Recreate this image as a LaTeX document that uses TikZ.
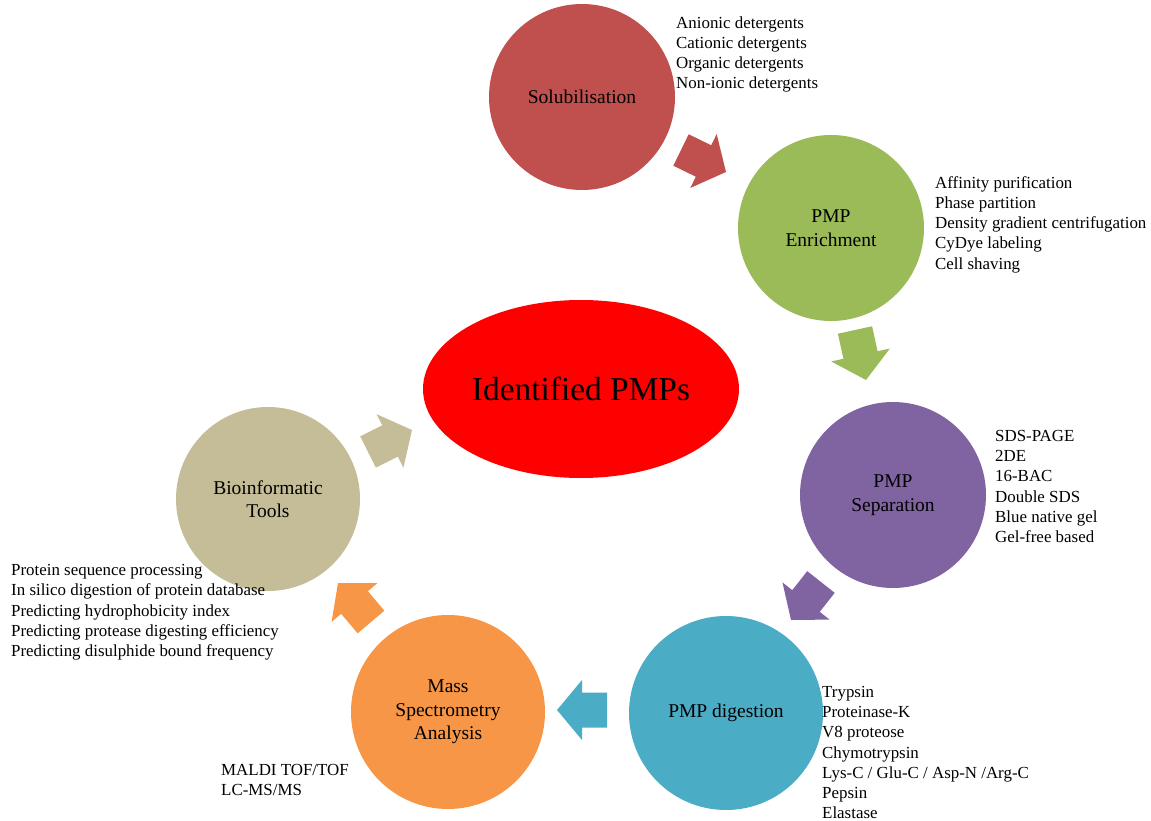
\documentclass[tikz,border=0pt]{standalone}
\usepackage{fontspec}
\setmainfont{Liberation Serif}
\usetikzlibrary{shapes.geometric,calc}
\definecolor{csol}{HTML}{C0504D}
\definecolor{cenr}{HTML}{9BBB59}
\definecolor{csep}{HTML}{8064A2}
\definecolor{cdig}{HTML}{4BACC6}
\definecolor{cms}{HTML}{F79646}
\definecolor{cbio}{HTML}{C4BD97}
\newcommand{\blockarr}[3]{%
  \fill[#1] ($(#2)!17.5pt!90:(#3)$)
    -- ($($(#2)!0.5!(#3)$)!17.5pt!90:(#3)$)
    -- ($($(#2)!0.5!(#3)$)!30pt!90:(#3)$)
    -- (#3)
    -- ($($(#2)!0.5!(#3)$)!30pt!-90:(#3)$)
    -- ($($(#2)!0.5!(#3)$)!17.5pt!-90:(#3)$)
    -- ($(#2)!17.5pt!-90:(#3)$) -- cycle;}
\begin{document}
\begin{tikzpicture}[x=1pt,y=-1pt,
  stage/.style={circle,inner sep=0pt,align=center,
    font=\fontsize{19.5}{23.5}\selectfont},
  lst/.style={anchor=west,inner sep=0pt,align=left,
    font=\fontsize{16.9}{20.3}\selectfont}]
\useasboundingbox (0,0) rectangle (1151,821);
% circles
\node[stage,fill=csol,minimum size=186pt] (sol) at (582,97) {Solubilisation};
\node[stage,fill=cenr,minimum size=186pt] (enr) at (831,228) {PMP\\Enrichment};
\node[stage,fill=csep,minimum size=186pt] (sep) at (893,495) {PMP\\Separation};
\node[stage,fill=cdig,minimum size=194pt] (dig) at (726,713) {PMP digestion};
\node[stage,fill=cms,minimum size=194pt] (ms) at (448,712) {Mass\\Spectrometry\\Analysis};
\node[stage,fill=cbio,minimum size=184pt] (bio) at (268,499) {Bioinformatic\\Tools};
\node[ellipse,fill=red,minimum width=316pt,minimum height=178pt,inner sep=0pt,
  font=\fontsize{33.4}{36}\selectfont] (id) at (581,389) {Identified PMPs};
% lists
\node[lst] (lsol) at (676,54.5) {Anionic detergents\\Cationic detergents\\Organic detergents\\Non-ionic detergents};
\node[lst] (lenr) at (935,224.5) {Affinity purification\\Phase partition\\Density gradient centrifugation\\CyDye labeling\\Cell shaving};
\node[lst] (lsep) at (995,486.5) {SDS-PAGE\\2DE\\16-BAC\\Double SDS\\Blue native gel\\Gel-free based};
\node[lst] (ldig) at (822,752.5) {Trypsin\\Proteinase-K\\V8 proteose\\Chymotrypsin\\Lys-C / Glu-C / Asp-N /Arg-C\\Pepsin\\Elastase};
\node[lst] (lms) at (221,780) {MALDI TOF/TOF\\LC-MS/MS};
\node[lst] (lbio) at (11,612.5) {Protein sequence processing\\In silico digestion of protein database\\Predicting hydrophobicity index\\Predicting protease digesting efficiency\\Predicting disulphide bound frequency};
% arrows
\coordinate (a1t) at (681,150); \coordinate (a1h) at (726,172);
\coordinate (a2t) at (855,330); \coordinate (a2h) at (866,380);
\coordinate (a3t) at (821,582); \coordinate (a3h) at (791,620);
\coordinate (a4t) at (607,710); \coordinate (a4h) at (557,710);
\coordinate (a5t) at (371,622); \coordinate (a5h) at (338,583);
\coordinate (a6t) at (368,452); \coordinate (a6h) at (412,430);
\blockarr{csol}{a1t}{a1h}
\blockarr{cenr}{a2t}{a2h}
\blockarr{csep}{a3t}{a3h}
\blockarr{cdig}{a4t}{a4h}
\blockarr{cms}{a5t}{a5h}
\blockarr{cbio}{a6t}{a6h}
\end{tikzpicture}
\end{document}
